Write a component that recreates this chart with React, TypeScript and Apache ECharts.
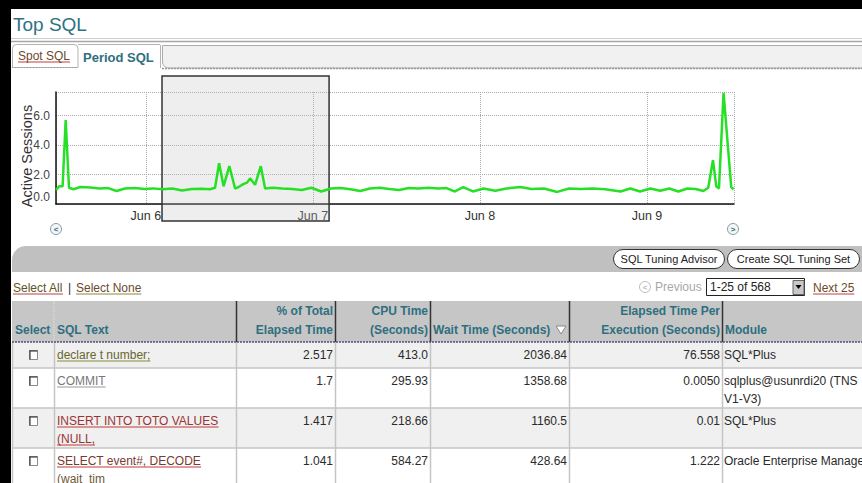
import React, { useEffect, useRef } from 'react';
import * as echarts from 'echarts';

// ---------------- Chart data ----------------
// hours after Jun 5 00:00 (local) and the active sessions read at that time
const sampleHours = [
  11.1, 11.55, 12.05, 12.49, 12.97, 13.6, 14.6, 16.0, 17.4, 18.6, 19.8, 21.0, 22.4, 23.8,
  25.0, 26.4, 27.8, 29.2, 30.6, 32.0, 33.2, 33.95, 34.53, 35.17, 36.0, 36.83, 37.5, 38.0,
  38.55, 38.98, 39.7, 40.52, 41.14, 42.2, 43.6, 45.0, 46.4, 47.8, 49.2, 50.6, 52.0, 53.4,
  54.8, 56.2, 57.6, 59.0, 60.4, 61.8, 63.2, 64.6, 66.0, 67.2, 68.4, 69.6, 71.0, 72.5,
  74.2, 75.8, 77.8, 79.4, 81.2, 83.1, 84.8, 86.5, 88.2, 90.0, 92.2, 93.6, 95.0, 96.5,
  97.9, 99.2, 100.5, 101.8, 103.0, 104.1, 104.8, 105.48, 105.95, 106.34, 107.0, 108.1, 108.45,
];
const activeSessions = [
  0.95, 1.2, 1.2, 5.7, 1.1, 1.0, 1.15, 1.12, 1.05, 1.08, 0.88, 1.05, 1.08, 1.02,
  1.06, 1.0, 1.05, 0.92, 1.02, 1.04, 1.0, 1.1, 2.76, 1.2, 2.57, 1.05, 1.2, 1.35,
  1.45, 1.74, 1.3, 2.57, 1.05, 1.1, 1.05, 1.02, 0.95, 1.1, 0.85, 1.05, 1.08, 1.0,
  0.88, 1.05, 1.1, 1.02, 0.95, 1.08, 1.05, 1.1, 1.05, 1.08, 0.85, 1.15, 0.85, 1.05,
  0.9, 1.05, 1.15, 1.02, 1.05, 0.82, 1.05, 1.02, 1.05, 1.0, 0.85, 1.05, 0.85, 1.05,
  0.9, 1.05, 0.85, 1.05, 1.02, 0.88, 1.1, 2.98, 1.2, 1.05, 7.55, 1.15, 1.0,
];
const axisStartHour = 11.1;
const axisEndHour = 108.5;
const selectionHours = [26.33, 50.33];
const monthNames = ['Jan', 'Feb', 'Mar', 'Apr', 'May', 'Jun', 'Jul', 'Aug', 'Sep', 'Oct', 'Nov', 'Dec'];
const yAxisName = 'Active Sessions';

// ---------------- Page / table data ----------------
const pageTitle = 'Top SQL';
const tabLabels = ['Spot SQL', 'Period SQL'];
const buttonLabels = ['SQL Tuning Advisor', 'Create SQL Tuning Set'];
const selectLinks = ['Select All', 'Select None'];
const pagerLabels = ['Previous', '1-25 of 568', 'Next 25'];
const headerLabels = [
  ['Select'],
  ['SQL Text'],
  ['% of Total', 'Elapsed Time'],
  ['CPU Time', '(Seconds)'],
  ['Wait Time (Seconds)'],
  ['Elapsed Time Per', 'Execution (Seconds)'],
  ['Module'],
];
const sqlTexts = [
  ['declare t number;'],
  ['COMMIT'],
  ['INSERT INTO TOTO VALUES', '(NULL,'],
  ['SELECT event#, DECODE', '(wait_tim'],
];
const pctTotalElapsed = ['2.517', '1.7', '1.417', '1.041'];
const cpuSeconds = ['413.0', '295.93', '218.66', '584.27'];
const waitSeconds = ['2036.84', '1358.68', '1160.5', '428.64'];
const elapsedPerExec = ['76.558', '0.0050', '0.01', '1.222'];
const moduleNames = [
  ['SQL*Plus'],
  ['sqlplus@usunrdi20 (TNS', 'V1-V3)'],
  ['SQL*Plus'],
  ['Oracle Enterprise Manager'],
];

// ---------------- Styling helpers ----------------
const SANS = '"Liberation Sans", Arial, Helvetica, sans-serif';
const TEAL = '#2e6f80';
const linkColors = ['#66662e', '#777777', '#9a3434', '#7a3a30'];
const linkUnderline = ['#8a8a3a', '#999999', '#c03a3a', '#c03a3a'];

const DAY = 86400000;
const baseTime = new Date(2006, 5, 5).getTime();
const toTime = (h: number) => baseTime + h * 3600000;

let measureCtx: CanvasRenderingContext2D | null = null;
function textWidth(text: string, f: string) {
  if (!measureCtx) measureCtx = document.createElement('canvas').getContext('2d');
  if (!measureCtx) return text.length * 6;
  measureCtx.font = f;
  return measureCtx.measureText(text).width;
}
const font = (size: number, bold = false) => `${bold ? 'bold ' : ''}${size}px ${SANS}`;

function T(x: number, y: number, text: string, color: string, size = 12, bold = false, align = 'left'): any {
  return {
    type: 'text', x, y, silent: true, z: 20,
    style: { text, fill: color, font: font(size, bold), align, verticalAlign: 'middle' },
  };
}
function R(x: number, y: number, w: number, h: number, fill: string, stroke?: string, lw = 1, r: any = 0, z = 5): any {
  const style: any = { fill };
  if (stroke) { style.stroke = stroke; style.lineWidth = lw; }
  return { type: 'rect', silent: true, z, shape: { x, y, width: w, height: h, r }, style };
}
function L(x1: number, y1: number, x2: number, y2: number, color: string, lw = 1, dash?: number[], z = 6): any {
  const style: any = { stroke: color, lineWidth: lw };
  if (dash) style.lineDash = dash;
  return { type: 'line', silent: true, z, shape: { x1, y1, x2, y2 }, style };
}
function C(cx: number, cy: number, r: number, fill: string, stroke: string): any {
  return { type: 'circle', silent: true, z: 8, shape: { cx, cy, r }, style: { fill, stroke, lineWidth: 1 } };
}
function link(x: number, y: number, text: string, color: string, ul: string, size = 12): any[] {
  const w = textWidth(text, font(size));
  return [T(x, y, text, color, size), L(x, y + 6, x + w, y + 6, ul, 1, undefined, 19)];
}

function buildGraphics(sx0: number, sx1: number): any[] {
  const g: any[] = [];
  // title
  g.push(T(13, 24, pageTitle, '#2e7284', 19));
  g.push(L(11, 38.5, 862, 38.5, '#cccccc', 1));
  g.push(L(11, 41.5, 862, 41.5, '#a6a6a6', 1.5));

  // tabs
  g.push(R(12.5, 44.5, 65.5, 23, '#ffffff', '#b4b4b4', 1, [4, 4, 0, 0]));
  g.push(L(12, 67.5, 78, 67.5, '#999999', 1, [1, 2]));
  g.push(...link(18, 56, tabLabels[0], '#6a4a2a', '#c43c3c'));
  g.push(L(78, 44.5, 160, 44.5, '#b4b4b4', 1));
  g.push(L(160.5, 45, 160.5, 68, '#b4b4b4', 1));
  g.push(T(83, 57, tabLabels[1], TEAL, 13, true));
  g.push(R(162.5, 45.5, 700, 22.5, '#f1f1f1', '#ababab', 1, [0, 0, 0, 6]));
  g.push(L(162, 68.5, 862, 68.5, '#9a9a9a', 1.5, [2, 1]));

  // selection window over the chart
  g.push(R(sx0, 76, sx1 - sx0, 145, 'rgba(195,195,195,0.28)', '#333333', 1.5, 0, 1));

  // scroll icons
  g.push(C(56, 229, 5.5, '#f6f6f6', '#7f9aa6'));
  g.push(T(56, 229, '<', TEAL, 8, true, 'center'));
  g.push(C(733, 229, 5.5, '#f6f6f6', '#7f9aa6'));
  g.push(T(733, 229, '>', TEAL, 8, true, 'center'));

  // button bar
  g.push(R(12, 246, 850, 26, '#c0c0c0', undefined, 0, [14, 0, 0, 0]));
  g.push(R(613.5, 249.5, 111, 19, '#ffffff', '#333333', 1, 9.5, 7));
  g.push(T(669, 259, buttonLabels[0], '#222222', 11, false, 'center'));
  g.push(R(727.5, 249.5, 132, 19, '#ffffff', '#333333', 1, 9.5, 7));
  g.push(T(793.5, 259, buttonLabels[1], '#222222', 11, false, 'center'));

  // select all / none
  g.push(...link(13, 288, selectLinks[0], '#5e5424', '#b84040'));
  g.push(T(68, 288, '|', '#333333', 12));
  g.push(...link(76, 288, selectLinks[1], '#6a4a30', '#8a8a3a'));

  // pager
  g.push(C(645, 287, 5.5, '#ffffff', '#bbbbbb'));
  g.push(T(645, 287, '<', '#bbbbbb', 8, true, 'center'));
  g.push(T(655, 287, pagerLabels[0], '#a8a8a8', 12));
  g.push(R(706.5, 278.5, 98, 17, '#ffffff', '#222222', 1));
  g.push(T(710, 287, pagerLabels[1], '#222222', 12));
  g.push(R(793, 280.5, 11, 14, '#c8c8c8', '#666666', 1, 0, 7));
  g.push({ type: 'polygon', silent: true, z: 9, shape: { points: [[795.5, 285], [801.5, 285], [798.5, 289]] }, style: { fill: '#000' } });
  g.push(...link(813, 288, pagerLabels[2], '#6e4a28', '#c04040'));

  // table
  const colEdges = [12, 54, 236, 335, 430, 569, 722, 862];
  const headTop = 301;
  const headBottom = 342;
  g.push(R(12, headTop, 850, headBottom - headTop, '#c6c6c6'));
  g.push(L(54, headTop, 54, headBottom, '#e6e6e6', 1, [1, 1]));
  [2, 3, 4, 5, 6].forEach((i) => g.push(L(colEdges[i] + 0.5, headTop, colEdges[i] + 0.5, headBottom, '#333333', 1.5)));
  const rightCols = [2, 3, 5];
  headerLabels.forEach((lines, i) => {
    const right = rightCols.includes(i);
    const x = right ? colEdges[i + 1] - 2 : colEdges[i] + 3;
    const ys = lines.length === 2 ? [311, 330] : [330];
    lines.forEach((ln, k) => g.push(T(x, ys[k], ln, TEAL, 12, true, right ? 'right' : 'left')));
  });
  // sort indicator
  g.push({ type: 'polygon', silent: true, z: 9, shape: { points: [[556, 326], [566, 326], [561, 334]] }, style: { fill: '#ffffff', stroke: '#8a8a8a', lineWidth: 1 } });
  g.push(L(12, headBottom, 862, headBottom, '#55507a', 1.5, [2, 1], 7));

  // body rows
  const rowTops: number[] = [];
  let top = headBottom;
  sqlTexts.forEach((s, r) => {
    rowTops.push(top);
    const lines = Math.max(s.length, moduleNames[r].length);
    top += lines === 1 ? 26 : 40;
  });
  rowTops.forEach((rt, r) => {
    const h = (r + 1 < rowTops.length ? rowTops[r + 1] : 483) - rt;
    if (r % 2 === 0) g.push(R(12, rt, 850, h, '#f0f0f0', undefined, 0, 0, 2));
    if (r > 0) g.push(L(12, rt, 862, rt, '#c4c4c4', 1.5, undefined, 4));
    const cy = rt + 13;
    // checkbox
    g.push(R(29.5, rt + 8.5, 8, 9, '#ffffff', '#8a8a8a', 1, 0, 8));
    g.push(L(29.5, rt + 9, 37.5, rt + 9, '#444444', 1.2, undefined, 9));
    g.push(L(30, rt + 8.5, 30, rt + 17.5, '#444444', 1.2, undefined, 9));
    // sql text links
    sqlTexts[r].forEach((ln, k) => {
      const col = k === 0 ? linkColors[r] : (r === 3 ? '#6b5a3a' : linkColors[r]);
      g.push(...link(57, cy + k * 18, ln, col, linkUnderline[r]));
    });
    const nums = [pctTotalElapsed[r], cpuSeconds[r], waitSeconds[r], elapsedPerExec[r]];
    nums.forEach((v, k) => g.push(T(colEdges[k + 3] - 2, cy, v, '#2a2a2a', 12, false, 'right')));
    moduleNames[r].forEach((ln, k) => g.push(T(724, cy + k * 18, ln, '#2a2a2a', 12)));
  });
  colEdges.slice(0, 7).forEach((x) => g.push(L(x + 0.5, headBottom, x + 0.5, 483, '#c4c4c4', 1.5, undefined, 4)));

  // black frame of the screenshot
  g.push(R(0, 0, 862, 9, '#000000', undefined, 0, 0, 50));
  g.push(R(0, 0, 11, 483, '#000000', undefined, 0, 0, 50));
  return g;
}

export default function App() {
  const ref = useRef<HTMLDivElement>(null);
  useEffect(() => {
    if (!ref.current) return;
    const chart = echarts.init(ref.current, null, { renderer: 'svg' });
    const data = sampleHours.map((h, i) => [toTime(h), activeSessions[i]]);
    chart.setOption({
      animation: false,
      backgroundColor: '#ffffff',
      textStyle: { fontFamily: SANS },
      grid: { left: 56, right: 128, top: 92, bottom: 279 },
      xAxis: {
        type: 'time',
        min: toTime(axisStartHour),
        max: toTime(axisEndHour),
        minInterval: DAY,
        maxInterval: DAY,
        axisLine: { lineStyle: { color: '#111111', width: 1.5 } },
        axisTick: { show: false },
        axisLabel: {
          color: '#333333',
          fontSize: 12.5,
          margin: 5,
          formatter: (v: number) => {
            const d = new Date(v);
            return monthNames[d.getMonth()] + ' ' + d.getDate();
          },
        },
        splitLine: { show: true, lineStyle: { type: 'dotted', color: '#aaaaaa' } },
      },
      yAxis: {
        type: 'value',
        min: 0,
        max: 7.6,
        interval: 2,
        name: yAxisName,
        nameLocation: 'middle',
        nameGap: 22,
        nameMoveOverlap: false,
        nameTextStyle: { fontSize: 14.5, color: '#333333', padding: [0, 16, 0, 0] },
        axisLine: { show: true, lineStyle: { color: '#111111', width: 1.5 } },
        axisTick: { show: false },
        axisLabel: {
          color: '#444444',
          fontSize: 12,
          margin: 6,
          showMaxLabel: false,
          formatter: (v: number) => (v === 0 ? '{z|0.0}' : v.toFixed(1)),
          rich: { z: { padding: [0, 0, 14, 0], fontSize: 12, color: '#444444' } },
        },
        splitLine: { lineStyle: { type: 'dotted', color: '#aaaaaa' } },
      },
      series: [
        {
          type: 'line',
          data,
          showSymbol: false,
          symbol: 'none',
          silent: true,
          z: 3,
          lineStyle: { color: '#26e026', width: 2.5 },
        },
      ],
    });
    const sx0 = chart.convertToPixel({ xAxisIndex: 0 }, toTime(selectionHours[0])) as number;
    const sx1 = chart.convertToPixel({ xAxisIndex: 0 }, toTime(selectionHours[1])) as number;
    chart.setOption({ graphic: { elements: buildGraphics(sx0, sx1) } });
    return () => chart.dispose();
  }, []);
  return (
    <div
      ref={ref}
      style={{ position: 'fixed', left: 0, top: 0, width: 862, height: 483, background: '#ffffff' }}
    />
  );
}
